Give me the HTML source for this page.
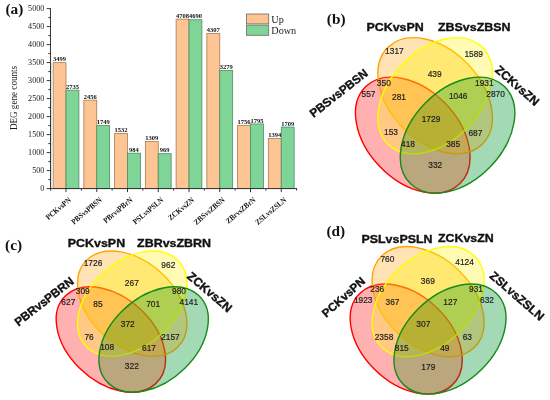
<!DOCTYPE html><html><head><meta charset="utf-8"><style>html,body{margin:0;padding:0;background:#fff;}svg{display:block;will-change:transform;}</style></head><body>
<svg width="550" height="400" viewBox="0 0 550 400">
<rect width="550" height="400" fill="#fff"/>
<g id="bars">
<rect x="53.10" y="62.64" width="12.90" height="125.96" fill="#fdc593" stroke="#a87c55" stroke-width="0.8"/>
<rect x="66.00" y="90.14" width="12.90" height="98.46" fill="#7ed597" stroke="#4f8d60" stroke-width="0.8"/>
<rect x="83.85" y="100.18" width="12.90" height="88.42" fill="#fdc593" stroke="#a87c55" stroke-width="0.8"/>
<rect x="96.75" y="125.64" width="12.90" height="62.96" fill="#7ed597" stroke="#4f8d60" stroke-width="0.8"/>
<rect x="114.60" y="133.45" width="12.90" height="55.15" fill="#fdc593" stroke="#a87c55" stroke-width="0.8"/>
<rect x="127.50" y="153.18" width="12.90" height="35.42" fill="#7ed597" stroke="#4f8d60" stroke-width="0.8"/>
<rect x="145.35" y="141.48" width="12.90" height="47.12" fill="#fdc593" stroke="#a87c55" stroke-width="0.8"/>
<rect x="158.25" y="153.72" width="12.90" height="34.88" fill="#7ed597" stroke="#4f8d60" stroke-width="0.8"/>
<rect x="176.10" y="19.11" width="12.90" height="169.49" fill="#fdc593" stroke="#a87c55" stroke-width="0.8"/>
<rect x="189.00" y="19.76" width="12.90" height="168.84" fill="#7ed597" stroke="#4f8d60" stroke-width="0.8"/>
<rect x="206.85" y="33.55" width="12.90" height="155.05" fill="#fdc593" stroke="#a87c55" stroke-width="0.8"/>
<rect x="219.75" y="70.56" width="12.90" height="118.04" fill="#7ed597" stroke="#4f8d60" stroke-width="0.8"/>
<rect x="237.60" y="125.38" width="12.90" height="63.22" fill="#fdc593" stroke="#a87c55" stroke-width="0.8"/>
<rect x="250.50" y="123.98" width="12.90" height="64.62" fill="#7ed597" stroke="#4f8d60" stroke-width="0.8"/>
<rect x="268.35" y="138.42" width="12.90" height="50.18" fill="#fdc593" stroke="#a87c55" stroke-width="0.8"/>
<rect x="281.25" y="127.08" width="12.90" height="61.52" fill="#7ed597" stroke="#4f8d60" stroke-width="0.8"/>
</g>
<rect x="51.0" y="63.04" width="2.0" height="125.56" fill="#dfe3e9"/>
<g stroke="#222" stroke-width="0.9" fill="none">
<line x1="50.5" y1="8.20" x2="50.5" y2="189.05"/>
<line x1="50.05" y1="188.6" x2="297" y2="188.6"/>
<line x1="46.70" y1="188.60" x2="50.5" y2="188.60"/>
<line x1="48.30" y1="179.60" x2="50.5" y2="179.60"/>
<line x1="46.70" y1="170.60" x2="50.5" y2="170.60"/>
<line x1="48.30" y1="161.60" x2="50.5" y2="161.60"/>
<line x1="46.70" y1="152.60" x2="50.5" y2="152.60"/>
<line x1="48.30" y1="143.60" x2="50.5" y2="143.60"/>
<line x1="46.70" y1="134.60" x2="50.5" y2="134.60"/>
<line x1="48.30" y1="125.60" x2="50.5" y2="125.60"/>
<line x1="46.70" y1="116.60" x2="50.5" y2="116.60"/>
<line x1="48.30" y1="107.60" x2="50.5" y2="107.60"/>
<line x1="46.70" y1="98.60" x2="50.5" y2="98.60"/>
<line x1="48.30" y1="89.60" x2="50.5" y2="89.60"/>
<line x1="46.70" y1="80.60" x2="50.5" y2="80.60"/>
<line x1="48.30" y1="71.60" x2="50.5" y2="71.60"/>
<line x1="46.70" y1="62.60" x2="50.5" y2="62.60"/>
<line x1="48.30" y1="53.60" x2="50.5" y2="53.60"/>
<line x1="46.70" y1="44.60" x2="50.5" y2="44.60"/>
<line x1="48.30" y1="35.60" x2="50.5" y2="35.60"/>
<line x1="46.70" y1="26.60" x2="50.5" y2="26.60"/>
<line x1="48.30" y1="17.60" x2="50.5" y2="17.60"/>
<line x1="46.70" y1="8.60" x2="50.5" y2="8.60"/>
<line x1="66.00" y1="188.6" x2="66.00" y2="192.10"/>
<line x1="81.38" y1="188.6" x2="81.38" y2="190.60"/>
<line x1="96.75" y1="188.6" x2="96.75" y2="192.10"/>
<line x1="112.12" y1="188.6" x2="112.12" y2="190.60"/>
<line x1="127.50" y1="188.6" x2="127.50" y2="192.10"/>
<line x1="142.88" y1="188.6" x2="142.88" y2="190.60"/>
<line x1="158.25" y1="188.6" x2="158.25" y2="192.10"/>
<line x1="173.62" y1="188.6" x2="173.62" y2="190.60"/>
<line x1="189.00" y1="188.6" x2="189.00" y2="192.10"/>
<line x1="204.38" y1="188.6" x2="204.38" y2="190.60"/>
<line x1="219.75" y1="188.6" x2="219.75" y2="192.10"/>
<line x1="235.12" y1="188.6" x2="235.12" y2="190.60"/>
<line x1="250.50" y1="188.6" x2="250.50" y2="192.10"/>
<line x1="265.88" y1="188.6" x2="265.88" y2="190.60"/>
<line x1="281.25" y1="188.6" x2="281.25" y2="192.10"/>
<line x1="296.62" y1="188.6" x2="296.62" y2="190.60"/>
<line x1="50.62" y1="188.6" x2="50.62" y2="190.60"/>
</g>
<g font-family="Liberation Serif, serif" font-size="8.1" fill="#222" text-anchor="end">
<text x="44.30" y="190.70">0</text>
<text x="44.30" y="172.70">500</text>
<text x="44.30" y="154.70">1000</text>
<text x="44.30" y="136.70">1500</text>
<text x="44.30" y="118.70">2000</text>
<text x="44.30" y="100.70">2500</text>
<text x="44.30" y="82.70">3000</text>
<text x="44.30" y="64.70">3500</text>
<text x="44.30" y="46.70">4000</text>
<text x="44.30" y="28.70">4500</text>
<text x="44.30" y="10.70">5000</text>
</g>
<text font-family="Liberation Serif, serif" font-size="9.8" fill="#1a1a1a" text-anchor="middle" transform="translate(17.0,98) rotate(-90) scale(0.93,1)">DEG gene counts</text>
<g font-family="Liberation Serif, serif" font-weight="bold" font-size="7.0" fill="#111" text-anchor="middle">
<text transform="translate(59.55,61.34) scale(0.93,1)">3499</text>
<text transform="translate(72.45,88.84) scale(0.93,1)">2735</text>
<text transform="translate(90.30,98.88) scale(0.93,1)">2456</text>
<text transform="translate(103.20,124.34) scale(0.93,1)">1749</text>
<text transform="translate(121.05,132.15) scale(0.93,1)">1532</text>
<text transform="translate(133.95,151.88) scale(0.93,1)">984</text>
<text transform="translate(151.80,140.18) scale(0.93,1)">1309</text>
<text transform="translate(164.70,152.42) scale(0.93,1)">969</text>
<text transform="translate(182.55,17.81) scale(0.93,1)">4708</text>
<text transform="translate(195.45,18.46) scale(0.93,1)">4690</text>
<text transform="translate(213.30,32.25) scale(0.93,1)">4307</text>
<text transform="translate(226.20,69.26) scale(0.93,1)">3279</text>
<text transform="translate(244.05,124.08) scale(0.93,1)">1756</text>
<text transform="translate(256.95,122.68) scale(0.93,1)">1795</text>
<text transform="translate(274.80,137.12) scale(0.93,1)">1394</text>
<text transform="translate(287.70,125.78) scale(0.93,1)">1709</text>
</g>
<g font-family="Liberation Serif, serif" font-weight="bold" font-size="7.9" fill="#111" text-anchor="end">
<text transform="translate(71.70,200.80) rotate(-40) scale(0.89,1)">PCKvsPN</text>
<text transform="translate(102.45,200.80) rotate(-40) scale(0.89,1)">PBSvsPBSN</text>
<text transform="translate(133.20,200.80) rotate(-40) scale(0.89,1)">PBrvsPBrN</text>
<text transform="translate(163.95,200.80) rotate(-40) scale(0.89,1)">PSLvsPSLN</text>
<text transform="translate(194.70,200.80) rotate(-40) scale(0.89,1)">ZCKvsZN</text>
<text transform="translate(225.45,200.80) rotate(-40) scale(0.89,1)">ZBSvsZBSN</text>
<text transform="translate(256.20,200.80) rotate(-40) scale(0.89,1)">ZBrvsZBrN</text>
<text transform="translate(286.95,200.80) rotate(-40) scale(0.89,1)">ZSLvsZSLN</text>
</g>
<rect x="246.5" y="14" width="22.2" height="9.9" fill="#fdc593" stroke="#6b6b60" stroke-width="0.8"/>
<rect x="246.5" y="25.1" width="22.2" height="10.2" fill="#7ed597" stroke="#6b6b60" stroke-width="0.8"/>
<g font-family="Liberation Serif, serif" font-size="10.2" fill="#1a1a1a">
<text x="271.3" y="22.8">Up</text>
<text x="271.3" y="33.8">Down</text>
</g>
<defs>
<clipPath id="vbA"><ellipse cx="412.75" cy="135.20" rx="67.6" ry="45.5" transform="rotate(46.0 412.75 135.20)" /></clipPath>
<mask id="vboA" maskUnits="userSpaceOnUse" x="-500" y="-500" width="2000" height="2000"><rect x="-500" y="-500" width="2000" height="2000" fill="#fff"/><ellipse cx="412.75" cy="135.20" rx="67.6" ry="45.5" transform="rotate(46.0 412.75 135.20)" fill="#000"/></mask>
<clipPath id="vbB"><ellipse cx="435.15" cy="95.75" rx="67.6" ry="45.5" transform="rotate(46.0 435.15 95.75)" /></clipPath>
<mask id="vboB" maskUnits="userSpaceOnUse" x="-500" y="-500" width="2000" height="2000"><rect x="-500" y="-500" width="2000" height="2000" fill="#fff"/><ellipse cx="435.15" cy="95.75" rx="67.6" ry="45.5" transform="rotate(46.0 435.15 95.75)" fill="#000"/></mask>
<clipPath id="vbC"><ellipse cx="435.15" cy="95.75" rx="67.6" ry="45.5" transform="rotate(-46.0 435.15 95.75)" /></clipPath>
<mask id="vboC" maskUnits="userSpaceOnUse" x="-500" y="-500" width="2000" height="2000"><rect x="-500" y="-500" width="2000" height="2000" fill="#fff"/><ellipse cx="435.15" cy="95.75" rx="67.6" ry="45.5" transform="rotate(-46.0 435.15 95.75)" fill="#000"/></mask>
<clipPath id="vbD"><ellipse cx="457.55" cy="135.20" rx="67.6" ry="45.5" transform="rotate(-46.0 457.55 135.20)" /></clipPath>
<mask id="vboD" maskUnits="userSpaceOnUse" x="-500" y="-500" width="2000" height="2000"><rect x="-500" y="-500" width="2000" height="2000" fill="#fff"/><ellipse cx="457.55" cy="135.20" rx="67.6" ry="45.5" transform="rotate(-46.0 457.55 135.20)" fill="#000"/></mask>
</defs>
<g transform="translate(435.15,115.50) scale(1.0000,1.0000) translate(-435.15,-115.50)">
<ellipse cx="412.75" cy="135.20" rx="67.6" ry="45.5" transform="rotate(46.0 412.75 135.20)" fill="#ffb1b1"/>
<ellipse cx="435.15" cy="95.75" rx="67.6" ry="45.5" transform="rotate(46.0 435.15 95.75)" fill="#ffe3b4"/>
<ellipse cx="435.15" cy="95.75" rx="67.6" ry="45.5" transform="rotate(-46.0 435.15 95.75)" fill="#fffbb4"/>
<ellipse cx="457.55" cy="135.20" rx="67.6" ry="45.5" transform="rotate(-46.0 457.55 135.20)" fill="#a3d9b4"/>
<g clip-path="url(#vbA)"><ellipse cx="435.15" cy="95.75" rx="67.6" ry="45.5" transform="rotate(46.0 435.15 95.75)" fill="#fcb084"/></g>
<g clip-path="url(#vbA)"><ellipse cx="435.15" cy="95.75" rx="67.6" ry="45.5" transform="rotate(-46.0 435.15 95.75)" fill="#ffc884"/></g>
<g clip-path="url(#vbA)"><ellipse cx="457.55" cy="135.20" rx="67.6" ry="45.5" transform="rotate(-46.0 457.55 135.20)" fill="#bba77d"/></g>
<g clip-path="url(#vbB)"><ellipse cx="435.15" cy="95.75" rx="67.6" ry="45.5" transform="rotate(-46.0 435.15 95.75)" fill="#ffe973"/></g>
<g clip-path="url(#vbB)"><ellipse cx="457.55" cy="135.20" rx="67.6" ry="45.5" transform="rotate(-46.0 457.55 135.20)" fill="#b1c780"/></g>
<g clip-path="url(#vbC)"><ellipse cx="457.55" cy="135.20" rx="67.6" ry="45.5" transform="rotate(-46.0 457.55 135.20)" fill="#bee073"/></g>
<g clip-path="url(#vbA)"><g clip-path="url(#vbB)"><ellipse cx="435.15" cy="95.75" rx="67.6" ry="45.5" transform="rotate(-46.0 435.15 95.75)" fill="#ffc454"/></g></g>
<g clip-path="url(#vbA)"><g clip-path="url(#vbB)"><ellipse cx="457.55" cy="135.20" rx="67.6" ry="45.5" transform="rotate(-46.0 457.55 135.20)" fill="#c3a858"/></g></g>
<g clip-path="url(#vbA)"><g clip-path="url(#vbC)"><ellipse cx="457.55" cy="135.20" rx="67.6" ry="45.5" transform="rotate(-46.0 457.55 135.20)" fill="#b6b458"/></g></g>
<g clip-path="url(#vbB)"><g clip-path="url(#vbC)"><ellipse cx="457.55" cy="135.20" rx="67.6" ry="45.5" transform="rotate(-46.0 457.55 135.20)" fill="#aecf52"/></g></g>
<g clip-path="url(#vbA)"><g clip-path="url(#vbB)"><g clip-path="url(#vbC)"><ellipse cx="457.55" cy="135.20" rx="67.6" ry="45.5" transform="rotate(-46.0 457.55 135.20)" fill="#b6b034"/></g></g></g>
<g mask="url(#vboB)"><g mask="url(#vboC)"><g mask="url(#vboD)"><ellipse cx="412.75" cy="135.20" rx="67.6" ry="45.5" transform="rotate(46.0 412.75 135.20)" fill="none" stroke="#ff0000" stroke-width="1.4" vector-effect="non-scaling-stroke"/></g></g></g>
<g clip-path="url(#vbB)"><g mask="url(#vboC)"><g mask="url(#vboD)"><ellipse cx="412.75" cy="135.20" rx="67.6" ry="45.5" transform="rotate(46.0 412.75 135.20)" fill="none" stroke="#ff3200" stroke-width="1.4" vector-effect="non-scaling-stroke"/></g></g></g>
<g mask="url(#vboB)"><g clip-path="url(#vbC)"><g mask="url(#vboD)"><ellipse cx="412.75" cy="135.20" rx="67.6" ry="45.5" transform="rotate(46.0 412.75 135.20)" fill="none" stroke="#ff4c00" stroke-width="1.4" vector-effect="non-scaling-stroke"/></g></g></g>
<g mask="url(#vboB)"><g mask="url(#vboC)"><g clip-path="url(#vbD)"><ellipse cx="412.75" cy="135.20" rx="67.6" ry="45.5" transform="rotate(46.0 412.75 135.20)" fill="none" stroke="#be2a0c" stroke-width="1.4" vector-effect="non-scaling-stroke"/></g></g></g>
<g clip-path="url(#vbB)"><g clip-path="url(#vbC)"><g mask="url(#vboD)"><ellipse cx="412.75" cy="135.20" rx="67.6" ry="45.5" transform="rotate(46.0 412.75 135.20)" fill="none" stroke="#ff6f00" stroke-width="1.4" vector-effect="non-scaling-stroke"/></g></g></g>
<g clip-path="url(#vbB)"><g mask="url(#vboC)"><g clip-path="url(#vbD)"><ellipse cx="412.75" cy="135.20" rx="67.6" ry="45.5" transform="rotate(46.0 412.75 135.20)" fill="none" stroke="#be4d0c" stroke-width="1.4" vector-effect="non-scaling-stroke"/></g></g></g>
<g mask="url(#vboB)"><g clip-path="url(#vbC)"><g clip-path="url(#vbD)"><ellipse cx="412.75" cy="135.20" rx="67.6" ry="45.5" transform="rotate(46.0 412.75 135.20)" fill="none" stroke="#be600c" stroke-width="1.4" vector-effect="non-scaling-stroke"/></g></g></g>
<g clip-path="url(#vbB)"><g clip-path="url(#vbC)"><g clip-path="url(#vbD)"><ellipse cx="412.75" cy="135.20" rx="67.6" ry="45.5" transform="rotate(46.0 412.75 135.20)" fill="none" stroke="#be780c" stroke-width="1.4" vector-effect="non-scaling-stroke"/></g></g></g>
<g mask="url(#vboC)"><g mask="url(#vboD)"><ellipse cx="435.15" cy="95.75" rx="67.6" ry="45.5" transform="rotate(46.0 435.15 95.75)" fill="none" stroke="#ffa500" stroke-width="1.4" vector-effect="non-scaling-stroke"/></g></g>
<g clip-path="url(#vbC)"><g mask="url(#vboD)"><ellipse cx="435.15" cy="95.75" rx="67.6" ry="45.5" transform="rotate(46.0 435.15 95.75)" fill="none" stroke="#ffc000" stroke-width="1.4" vector-effect="non-scaling-stroke"/></g></g>
<g mask="url(#vboC)"><g clip-path="url(#vbD)"><ellipse cx="435.15" cy="95.75" rx="67.6" ry="45.5" transform="rotate(46.0 435.15 95.75)" fill="none" stroke="#be9e0c" stroke-width="1.4" vector-effect="non-scaling-stroke"/></g></g>
<g clip-path="url(#vbC)"><g clip-path="url(#vbD)"><ellipse cx="435.15" cy="95.75" rx="67.6" ry="45.5" transform="rotate(46.0 435.15 95.75)" fill="none" stroke="#beb00c" stroke-width="1.4" vector-effect="non-scaling-stroke"/></g></g>
<g mask="url(#vboD)"><ellipse cx="435.15" cy="95.75" rx="67.6" ry="45.5" transform="rotate(-46.0 435.15 95.75)" fill="none" stroke="#ffff00" stroke-width="1.4" vector-effect="non-scaling-stroke"/></g>
<g clip-path="url(#vbD)"><ellipse cx="435.15" cy="95.75" rx="67.6" ry="45.5" transform="rotate(-46.0 435.15 95.75)" fill="none" stroke="#bedc0c" stroke-width="1.4" vector-effect="non-scaling-stroke"/></g>
<ellipse cx="457.55" cy="135.20" rx="67.6" ry="45.5" transform="rotate(-46.0 457.55 135.20)" fill="none" stroke="#188a18" stroke-width="1.4" vector-effect="non-scaling-stroke"/>
</g>
<g font-family="Liberation Sans, sans-serif" font-size="9.3" fill="#1e1e1e" stroke="#1e1e1e" stroke-width="0.2" text-anchor="middle">
<text transform="translate(394.40,54.00) scale(0.9,1)">1317</text>
<text transform="translate(383.80,85.60) scale(0.9,1)">350</text>
<text transform="translate(368.50,96.60) scale(0.9,1)">557</text>
<text transform="translate(399.00,99.60) scale(0.9,1)">281</text>
<text transform="translate(473.70,57.20) scale(0.9,1)">1589</text>
<text transform="translate(434.60,76.60) scale(0.9,1)">439</text>
<text transform="translate(484.30,85.60) scale(0.9,1)">1931</text>
<text transform="translate(458.20,99.20) scale(0.9,1)">1046</text>
<text transform="translate(495.60,96.70) scale(0.9,1)">2870</text>
<text transform="translate(431.00,122.20) scale(0.9,1)">1729</text>
<text transform="translate(391.00,135.00) scale(0.9,1)">153</text>
<text transform="translate(408.00,147.00) scale(0.9,1)">418</text>
<text transform="translate(435.20,167.60) scale(0.9,1)">332</text>
<text transform="translate(453.10,147.20) scale(0.9,1)">385</text>
<text transform="translate(475.40,135.50) scale(0.9,1)">687</text>
</g>
<g font-family="Liberation Sans, sans-serif" font-weight="bold" font-size="12.4" fill="#111" stroke="#111" stroke-width="0.35">
<text font-size="11.2" transform="translate(366.40,30.90) scale(1.11,1)">PCKvsPN</text>
<text font-size="11.2" transform="translate(438.00,31.40) scale(1.11,1)">ZBSvsZBSN</text>
<text text-anchor="middle" font-size="11.8" transform="translate(338.45,93.10) rotate(-38)" y="4.25">PBSvsPBSN</text>
<text text-anchor="middle" font-size="12.0" transform="translate(517.35,85.35) rotate(41)" y="4.32">ZCKvsZN</text>
</g>
<defs>
<clipPath id="vcA"><ellipse cx="412.75" cy="135.20" rx="67.6" ry="45.5" transform="rotate(46.0 412.75 135.20)" /></clipPath>
<mask id="vcoA" maskUnits="userSpaceOnUse" x="-500" y="-500" width="2000" height="2000"><rect x="-500" y="-500" width="2000" height="2000" fill="#fff"/><ellipse cx="412.75" cy="135.20" rx="67.6" ry="45.5" transform="rotate(46.0 412.75 135.20)" fill="#000"/></mask>
<clipPath id="vcB"><ellipse cx="435.15" cy="95.75" rx="67.6" ry="45.5" transform="rotate(46.0 435.15 95.75)" /></clipPath>
<mask id="vcoB" maskUnits="userSpaceOnUse" x="-500" y="-500" width="2000" height="2000"><rect x="-500" y="-500" width="2000" height="2000" fill="#fff"/><ellipse cx="435.15" cy="95.75" rx="67.6" ry="45.5" transform="rotate(46.0 435.15 95.75)" fill="#000"/></mask>
<clipPath id="vcC"><ellipse cx="435.15" cy="95.75" rx="67.6" ry="45.5" transform="rotate(-46.0 435.15 95.75)" /></clipPath>
<mask id="vcoC" maskUnits="userSpaceOnUse" x="-500" y="-500" width="2000" height="2000"><rect x="-500" y="-500" width="2000" height="2000" fill="#fff"/><ellipse cx="435.15" cy="95.75" rx="67.6" ry="45.5" transform="rotate(-46.0 435.15 95.75)" fill="#000"/></mask>
<clipPath id="vcD"><ellipse cx="457.55" cy="135.20" rx="67.6" ry="45.5" transform="rotate(-46.0 457.55 135.20)" /></clipPath>
<mask id="vcoD" maskUnits="userSpaceOnUse" x="-500" y="-500" width="2000" height="2000"><rect x="-500" y="-500" width="2000" height="2000" fill="#fff"/><ellipse cx="457.55" cy="135.20" rx="67.6" ry="45.5" transform="rotate(-46.0 457.55 135.20)" fill="#000"/></mask>
</defs>
<g transform="translate(132.25,321.60) scale(0.9548,0.9076) translate(-435.15,-115.50)">
<ellipse cx="412.75" cy="135.20" rx="67.6" ry="45.5" transform="rotate(46.0 412.75 135.20)" fill="#ffb1b1"/>
<ellipse cx="435.15" cy="95.75" rx="67.6" ry="45.5" transform="rotate(46.0 435.15 95.75)" fill="#ffe3b4"/>
<ellipse cx="435.15" cy="95.75" rx="67.6" ry="45.5" transform="rotate(-46.0 435.15 95.75)" fill="#fffbb4"/>
<ellipse cx="457.55" cy="135.20" rx="67.6" ry="45.5" transform="rotate(-46.0 457.55 135.20)" fill="#a3d9b4"/>
<g clip-path="url(#vcA)"><ellipse cx="435.15" cy="95.75" rx="67.6" ry="45.5" transform="rotate(46.0 435.15 95.75)" fill="#fcb084"/></g>
<g clip-path="url(#vcA)"><ellipse cx="435.15" cy="95.75" rx="67.6" ry="45.5" transform="rotate(-46.0 435.15 95.75)" fill="#ffc884"/></g>
<g clip-path="url(#vcA)"><ellipse cx="457.55" cy="135.20" rx="67.6" ry="45.5" transform="rotate(-46.0 457.55 135.20)" fill="#bba77d"/></g>
<g clip-path="url(#vcB)"><ellipse cx="435.15" cy="95.75" rx="67.6" ry="45.5" transform="rotate(-46.0 435.15 95.75)" fill="#ffe973"/></g>
<g clip-path="url(#vcB)"><ellipse cx="457.55" cy="135.20" rx="67.6" ry="45.5" transform="rotate(-46.0 457.55 135.20)" fill="#b1c780"/></g>
<g clip-path="url(#vcC)"><ellipse cx="457.55" cy="135.20" rx="67.6" ry="45.5" transform="rotate(-46.0 457.55 135.20)" fill="#bee073"/></g>
<g clip-path="url(#vcA)"><g clip-path="url(#vcB)"><ellipse cx="435.15" cy="95.75" rx="67.6" ry="45.5" transform="rotate(-46.0 435.15 95.75)" fill="#ffc454"/></g></g>
<g clip-path="url(#vcA)"><g clip-path="url(#vcB)"><ellipse cx="457.55" cy="135.20" rx="67.6" ry="45.5" transform="rotate(-46.0 457.55 135.20)" fill="#c3a858"/></g></g>
<g clip-path="url(#vcA)"><g clip-path="url(#vcC)"><ellipse cx="457.55" cy="135.20" rx="67.6" ry="45.5" transform="rotate(-46.0 457.55 135.20)" fill="#b6b458"/></g></g>
<g clip-path="url(#vcB)"><g clip-path="url(#vcC)"><ellipse cx="457.55" cy="135.20" rx="67.6" ry="45.5" transform="rotate(-46.0 457.55 135.20)" fill="#aecf52"/></g></g>
<g clip-path="url(#vcA)"><g clip-path="url(#vcB)"><g clip-path="url(#vcC)"><ellipse cx="457.55" cy="135.20" rx="67.6" ry="45.5" transform="rotate(-46.0 457.55 135.20)" fill="#b6b034"/></g></g></g>
<g mask="url(#vcoB)"><g mask="url(#vcoC)"><g mask="url(#vcoD)"><ellipse cx="412.75" cy="135.20" rx="67.6" ry="45.5" transform="rotate(46.0 412.75 135.20)" fill="none" stroke="#ff0000" stroke-width="1.4" vector-effect="non-scaling-stroke"/></g></g></g>
<g clip-path="url(#vcB)"><g mask="url(#vcoC)"><g mask="url(#vcoD)"><ellipse cx="412.75" cy="135.20" rx="67.6" ry="45.5" transform="rotate(46.0 412.75 135.20)" fill="none" stroke="#ff3200" stroke-width="1.4" vector-effect="non-scaling-stroke"/></g></g></g>
<g mask="url(#vcoB)"><g clip-path="url(#vcC)"><g mask="url(#vcoD)"><ellipse cx="412.75" cy="135.20" rx="67.6" ry="45.5" transform="rotate(46.0 412.75 135.20)" fill="none" stroke="#ff4c00" stroke-width="1.4" vector-effect="non-scaling-stroke"/></g></g></g>
<g mask="url(#vcoB)"><g mask="url(#vcoC)"><g clip-path="url(#vcD)"><ellipse cx="412.75" cy="135.20" rx="67.6" ry="45.5" transform="rotate(46.0 412.75 135.20)" fill="none" stroke="#be2a0c" stroke-width="1.4" vector-effect="non-scaling-stroke"/></g></g></g>
<g clip-path="url(#vcB)"><g clip-path="url(#vcC)"><g mask="url(#vcoD)"><ellipse cx="412.75" cy="135.20" rx="67.6" ry="45.5" transform="rotate(46.0 412.75 135.20)" fill="none" stroke="#ff6f00" stroke-width="1.4" vector-effect="non-scaling-stroke"/></g></g></g>
<g clip-path="url(#vcB)"><g mask="url(#vcoC)"><g clip-path="url(#vcD)"><ellipse cx="412.75" cy="135.20" rx="67.6" ry="45.5" transform="rotate(46.0 412.75 135.20)" fill="none" stroke="#be4d0c" stroke-width="1.4" vector-effect="non-scaling-stroke"/></g></g></g>
<g mask="url(#vcoB)"><g clip-path="url(#vcC)"><g clip-path="url(#vcD)"><ellipse cx="412.75" cy="135.20" rx="67.6" ry="45.5" transform="rotate(46.0 412.75 135.20)" fill="none" stroke="#be600c" stroke-width="1.4" vector-effect="non-scaling-stroke"/></g></g></g>
<g clip-path="url(#vcB)"><g clip-path="url(#vcC)"><g clip-path="url(#vcD)"><ellipse cx="412.75" cy="135.20" rx="67.6" ry="45.5" transform="rotate(46.0 412.75 135.20)" fill="none" stroke="#be780c" stroke-width="1.4" vector-effect="non-scaling-stroke"/></g></g></g>
<g mask="url(#vcoC)"><g mask="url(#vcoD)"><ellipse cx="435.15" cy="95.75" rx="67.6" ry="45.5" transform="rotate(46.0 435.15 95.75)" fill="none" stroke="#ffa500" stroke-width="1.4" vector-effect="non-scaling-stroke"/></g></g>
<g clip-path="url(#vcC)"><g mask="url(#vcoD)"><ellipse cx="435.15" cy="95.75" rx="67.6" ry="45.5" transform="rotate(46.0 435.15 95.75)" fill="none" stroke="#ffc000" stroke-width="1.4" vector-effect="non-scaling-stroke"/></g></g>
<g mask="url(#vcoC)"><g clip-path="url(#vcD)"><ellipse cx="435.15" cy="95.75" rx="67.6" ry="45.5" transform="rotate(46.0 435.15 95.75)" fill="none" stroke="#be9e0c" stroke-width="1.4" vector-effect="non-scaling-stroke"/></g></g>
<g clip-path="url(#vcC)"><g clip-path="url(#vcD)"><ellipse cx="435.15" cy="95.75" rx="67.6" ry="45.5" transform="rotate(46.0 435.15 95.75)" fill="none" stroke="#beb00c" stroke-width="1.4" vector-effect="non-scaling-stroke"/></g></g>
<g mask="url(#vcoD)"><ellipse cx="435.15" cy="95.75" rx="67.6" ry="45.5" transform="rotate(-46.0 435.15 95.75)" fill="none" stroke="#ffff00" stroke-width="1.4" vector-effect="non-scaling-stroke"/></g>
<g clip-path="url(#vcD)"><ellipse cx="435.15" cy="95.75" rx="67.6" ry="45.5" transform="rotate(-46.0 435.15 95.75)" fill="none" stroke="#bedc0c" stroke-width="1.4" vector-effect="non-scaling-stroke"/></g>
<ellipse cx="457.55" cy="135.20" rx="67.6" ry="45.5" transform="rotate(-46.0 457.55 135.20)" fill="none" stroke="#188a18" stroke-width="1.4" vector-effect="non-scaling-stroke"/>
</g>
<g font-family="Liberation Sans, sans-serif" font-size="9.3" fill="#1e1e1e" stroke="#1e1e1e" stroke-width="0.2" text-anchor="middle">
<text transform="translate(93.00,265.60) scale(0.9,1)">1726</text>
<text transform="translate(82.70,294.20) scale(0.9,1)">309</text>
<text transform="translate(68.30,304.60) scale(0.9,1)">627</text>
<text transform="translate(98.00,306.60) scale(0.9,1)">85</text>
<text transform="translate(168.30,268.00) scale(0.9,1)">962</text>
<text transform="translate(131.80,285.60) scale(0.9,1)">267</text>
<text transform="translate(179.00,294.00) scale(0.9,1)">980</text>
<text transform="translate(188.80,304.60) scale(0.9,1)">4141</text>
<text transform="translate(153.10,306.60) scale(0.9,1)">701</text>
<text transform="translate(127.70,327.40) scale(0.9,1)">372</text>
<text transform="translate(89.10,339.60) scale(0.9,1)">76</text>
<text transform="translate(107.10,350.20) scale(0.9,1)">108</text>
<text transform="translate(131.80,369.00) scale(0.9,1)">322</text>
<text transform="translate(170.40,339.60) scale(0.9,1)">2157</text>
<text transform="translate(149.00,350.60) scale(0.9,1)">617</text>
</g>
<g font-family="Liberation Sans, sans-serif" font-weight="bold" font-size="12.4" fill="#111" stroke="#111" stroke-width="0.35">
<text font-size="11.2" transform="translate(67.80,246.90) scale(1.11,1)">PCKvsPN</text>
<text font-size="11.2" transform="translate(137.10,247.00) scale(1.11,1)">ZBRvsZBRN</text>
<text text-anchor="middle" font-size="11.8" transform="translate(43.95,301.35) rotate(-38)" y="4.25">PBRvsPBRN</text>
<text text-anchor="middle" font-size="12.1" transform="translate(209.90,291.80) rotate(40.5)" y="4.36">ZCKvsZN</text>
</g>
<defs>
<clipPath id="vdA"><ellipse cx="412.75" cy="135.20" rx="67.6" ry="45.5" transform="rotate(46.0 412.75 135.20)" /></clipPath>
<mask id="vdoA" maskUnits="userSpaceOnUse" x="-500" y="-500" width="2000" height="2000"><rect x="-500" y="-500" width="2000" height="2000" fill="#fff"/><ellipse cx="412.75" cy="135.20" rx="67.6" ry="45.5" transform="rotate(46.0 412.75 135.20)" fill="#000"/></mask>
<clipPath id="vdB"><ellipse cx="435.15" cy="95.75" rx="67.6" ry="45.5" transform="rotate(46.0 435.15 95.75)" /></clipPath>
<mask id="vdoB" maskUnits="userSpaceOnUse" x="-500" y="-500" width="2000" height="2000"><rect x="-500" y="-500" width="2000" height="2000" fill="#fff"/><ellipse cx="435.15" cy="95.75" rx="67.6" ry="45.5" transform="rotate(46.0 435.15 95.75)" fill="#000"/></mask>
<clipPath id="vdC"><ellipse cx="435.15" cy="95.75" rx="67.6" ry="45.5" transform="rotate(-46.0 435.15 95.75)" /></clipPath>
<mask id="vdoC" maskUnits="userSpaceOnUse" x="-500" y="-500" width="2000" height="2000"><rect x="-500" y="-500" width="2000" height="2000" fill="#fff"/><ellipse cx="435.15" cy="95.75" rx="67.6" ry="45.5" transform="rotate(-46.0 435.15 95.75)" fill="#000"/></mask>
<clipPath id="vdD"><ellipse cx="457.55" cy="135.20" rx="67.6" ry="45.5" transform="rotate(-46.0 457.55 135.20)" /></clipPath>
<mask id="vdoD" maskUnits="userSpaceOnUse" x="-500" y="-500" width="2000" height="2000"><rect x="-500" y="-500" width="2000" height="2000" fill="#fff"/><ellipse cx="457.55" cy="135.20" rx="67.6" ry="45.5" transform="rotate(-46.0 457.55 135.20)" fill="#000"/></mask>
</defs>
<g transform="translate(428.10,320.35) scale(0.9780,0.9480) translate(-435.15,-115.50)">
<ellipse cx="412.75" cy="135.20" rx="67.6" ry="45.5" transform="rotate(46.0 412.75 135.20)" fill="#ffb1b1"/>
<ellipse cx="435.15" cy="95.75" rx="67.6" ry="45.5" transform="rotate(46.0 435.15 95.75)" fill="#ffe3b4"/>
<ellipse cx="435.15" cy="95.75" rx="67.6" ry="45.5" transform="rotate(-46.0 435.15 95.75)" fill="#fffbb4"/>
<ellipse cx="457.55" cy="135.20" rx="67.6" ry="45.5" transform="rotate(-46.0 457.55 135.20)" fill="#a3d9b4"/>
<g clip-path="url(#vdA)"><ellipse cx="435.15" cy="95.75" rx="67.6" ry="45.5" transform="rotate(46.0 435.15 95.75)" fill="#fcb084"/></g>
<g clip-path="url(#vdA)"><ellipse cx="435.15" cy="95.75" rx="67.6" ry="45.5" transform="rotate(-46.0 435.15 95.75)" fill="#ffc884"/></g>
<g clip-path="url(#vdA)"><ellipse cx="457.55" cy="135.20" rx="67.6" ry="45.5" transform="rotate(-46.0 457.55 135.20)" fill="#bba77d"/></g>
<g clip-path="url(#vdB)"><ellipse cx="435.15" cy="95.75" rx="67.6" ry="45.5" transform="rotate(-46.0 435.15 95.75)" fill="#ffe973"/></g>
<g clip-path="url(#vdB)"><ellipse cx="457.55" cy="135.20" rx="67.6" ry="45.5" transform="rotate(-46.0 457.55 135.20)" fill="#b1c780"/></g>
<g clip-path="url(#vdC)"><ellipse cx="457.55" cy="135.20" rx="67.6" ry="45.5" transform="rotate(-46.0 457.55 135.20)" fill="#bee073"/></g>
<g clip-path="url(#vdA)"><g clip-path="url(#vdB)"><ellipse cx="435.15" cy="95.75" rx="67.6" ry="45.5" transform="rotate(-46.0 435.15 95.75)" fill="#ffc454"/></g></g>
<g clip-path="url(#vdA)"><g clip-path="url(#vdB)"><ellipse cx="457.55" cy="135.20" rx="67.6" ry="45.5" transform="rotate(-46.0 457.55 135.20)" fill="#c3a858"/></g></g>
<g clip-path="url(#vdA)"><g clip-path="url(#vdC)"><ellipse cx="457.55" cy="135.20" rx="67.6" ry="45.5" transform="rotate(-46.0 457.55 135.20)" fill="#b6b458"/></g></g>
<g clip-path="url(#vdB)"><g clip-path="url(#vdC)"><ellipse cx="457.55" cy="135.20" rx="67.6" ry="45.5" transform="rotate(-46.0 457.55 135.20)" fill="#aecf52"/></g></g>
<g clip-path="url(#vdA)"><g clip-path="url(#vdB)"><g clip-path="url(#vdC)"><ellipse cx="457.55" cy="135.20" rx="67.6" ry="45.5" transform="rotate(-46.0 457.55 135.20)" fill="#b6b034"/></g></g></g>
<g mask="url(#vdoB)"><g mask="url(#vdoC)"><g mask="url(#vdoD)"><ellipse cx="412.75" cy="135.20" rx="67.6" ry="45.5" transform="rotate(46.0 412.75 135.20)" fill="none" stroke="#ff0000" stroke-width="1.4" vector-effect="non-scaling-stroke"/></g></g></g>
<g clip-path="url(#vdB)"><g mask="url(#vdoC)"><g mask="url(#vdoD)"><ellipse cx="412.75" cy="135.20" rx="67.6" ry="45.5" transform="rotate(46.0 412.75 135.20)" fill="none" stroke="#ff3200" stroke-width="1.4" vector-effect="non-scaling-stroke"/></g></g></g>
<g mask="url(#vdoB)"><g clip-path="url(#vdC)"><g mask="url(#vdoD)"><ellipse cx="412.75" cy="135.20" rx="67.6" ry="45.5" transform="rotate(46.0 412.75 135.20)" fill="none" stroke="#ff4c00" stroke-width="1.4" vector-effect="non-scaling-stroke"/></g></g></g>
<g mask="url(#vdoB)"><g mask="url(#vdoC)"><g clip-path="url(#vdD)"><ellipse cx="412.75" cy="135.20" rx="67.6" ry="45.5" transform="rotate(46.0 412.75 135.20)" fill="none" stroke="#be2a0c" stroke-width="1.4" vector-effect="non-scaling-stroke"/></g></g></g>
<g clip-path="url(#vdB)"><g clip-path="url(#vdC)"><g mask="url(#vdoD)"><ellipse cx="412.75" cy="135.20" rx="67.6" ry="45.5" transform="rotate(46.0 412.75 135.20)" fill="none" stroke="#ff6f00" stroke-width="1.4" vector-effect="non-scaling-stroke"/></g></g></g>
<g clip-path="url(#vdB)"><g mask="url(#vdoC)"><g clip-path="url(#vdD)"><ellipse cx="412.75" cy="135.20" rx="67.6" ry="45.5" transform="rotate(46.0 412.75 135.20)" fill="none" stroke="#be4d0c" stroke-width="1.4" vector-effect="non-scaling-stroke"/></g></g></g>
<g mask="url(#vdoB)"><g clip-path="url(#vdC)"><g clip-path="url(#vdD)"><ellipse cx="412.75" cy="135.20" rx="67.6" ry="45.5" transform="rotate(46.0 412.75 135.20)" fill="none" stroke="#be600c" stroke-width="1.4" vector-effect="non-scaling-stroke"/></g></g></g>
<g clip-path="url(#vdB)"><g clip-path="url(#vdC)"><g clip-path="url(#vdD)"><ellipse cx="412.75" cy="135.20" rx="67.6" ry="45.5" transform="rotate(46.0 412.75 135.20)" fill="none" stroke="#be780c" stroke-width="1.4" vector-effect="non-scaling-stroke"/></g></g></g>
<g mask="url(#vdoC)"><g mask="url(#vdoD)"><ellipse cx="435.15" cy="95.75" rx="67.6" ry="45.5" transform="rotate(46.0 435.15 95.75)" fill="none" stroke="#ffa500" stroke-width="1.4" vector-effect="non-scaling-stroke"/></g></g>
<g clip-path="url(#vdC)"><g mask="url(#vdoD)"><ellipse cx="435.15" cy="95.75" rx="67.6" ry="45.5" transform="rotate(46.0 435.15 95.75)" fill="none" stroke="#ffc000" stroke-width="1.4" vector-effect="non-scaling-stroke"/></g></g>
<g mask="url(#vdoC)"><g clip-path="url(#vdD)"><ellipse cx="435.15" cy="95.75" rx="67.6" ry="45.5" transform="rotate(46.0 435.15 95.75)" fill="none" stroke="#be9e0c" stroke-width="1.4" vector-effect="non-scaling-stroke"/></g></g>
<g clip-path="url(#vdC)"><g clip-path="url(#vdD)"><ellipse cx="435.15" cy="95.75" rx="67.6" ry="45.5" transform="rotate(46.0 435.15 95.75)" fill="none" stroke="#beb00c" stroke-width="1.4" vector-effect="non-scaling-stroke"/></g></g>
<g mask="url(#vdoD)"><ellipse cx="435.15" cy="95.75" rx="67.6" ry="45.5" transform="rotate(-46.0 435.15 95.75)" fill="none" stroke="#ffff00" stroke-width="1.4" vector-effect="non-scaling-stroke"/></g>
<g clip-path="url(#vdD)"><ellipse cx="435.15" cy="95.75" rx="67.6" ry="45.5" transform="rotate(-46.0 435.15 95.75)" fill="none" stroke="#bedc0c" stroke-width="1.4" vector-effect="non-scaling-stroke"/></g>
<ellipse cx="457.55" cy="135.20" rx="67.6" ry="45.5" transform="rotate(-46.0 457.55 135.20)" fill="none" stroke="#188a18" stroke-width="1.4" vector-effect="non-scaling-stroke"/>
</g>
<g font-family="Liberation Sans, sans-serif" font-size="9.3" fill="#1e1e1e" stroke="#1e1e1e" stroke-width="0.2" text-anchor="middle">
<text transform="translate(387.40,262.00) scale(0.9,1)">760</text>
<text transform="translate(377.20,292.00) scale(0.9,1)">236</text>
<text transform="translate(363.20,302.60) scale(0.9,1)">1923</text>
<text transform="translate(392.50,305.00) scale(0.9,1)">367</text>
<text transform="translate(464.60,265.20) scale(0.9,1)">4124</text>
<text transform="translate(427.80,284.00) scale(0.9,1)">369</text>
<text transform="translate(476.00,292.00) scale(0.9,1)">931</text>
<text transform="translate(487.00,302.60) scale(0.9,1)">632</text>
<text transform="translate(450.30,305.20) scale(0.9,1)">127</text>
<text transform="translate(423.30,326.60) scale(0.9,1)">307</text>
<text transform="translate(384.00,339.60) scale(0.9,1)">2358</text>
<text transform="translate(401.70,350.60) scale(0.9,1)">815</text>
<text transform="translate(444.80,350.60) scale(0.9,1)">49</text>
<text transform="translate(428.30,370.00) scale(0.9,1)">179</text>
<text transform="translate(467.30,339.60) scale(0.9,1)">63</text>
</g>
<g font-family="Liberation Sans, sans-serif" font-weight="bold" font-size="12.4" fill="#111" stroke="#111" stroke-width="0.35">
<text font-size="11.2" transform="translate(361.40,243.00) scale(1.11,1)">PSLvsPSLN</text>
<text font-size="11.2" transform="translate(437.90,242.00) scale(1.11,1)">ZCKvsZN</text>
<text text-anchor="middle" font-size="11.6" transform="translate(343.35,297.00) rotate(-42)" y="4.18">PCKvsPN</text>
<text text-anchor="middle" font-size="12.0" transform="translate(517.10,295.75) rotate(41)" y="4.32">ZSLvsZSLN</text>
</g>
<text x="5.4" y="13.8" font-family="Liberation Serif, serif" font-weight="bold" font-size="15.3" fill="#111">(a)</text>
<text x="326.8" y="24.4" font-family="Liberation Serif, serif" font-weight="bold" font-size="15.3" fill="#111">(b)</text>
<text x="5.1" y="249.8" font-family="Liberation Serif, serif" font-weight="bold" font-size="15.3" fill="#111">(c)</text>
<text x="326.5" y="235.5" font-family="Liberation Serif, serif" font-weight="bold" font-size="15.3" fill="#111">(d)</text>
</svg></body></html>
